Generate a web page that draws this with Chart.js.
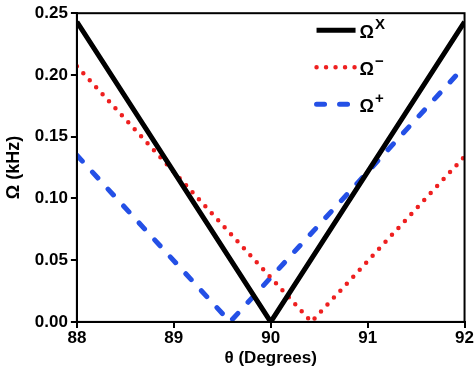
<!DOCTYPE html>
<html>
<head>
<meta charset="utf-8">
<script src="https://cdn.jsdelivr.net/npm/chart.js@4.4.0/dist/chart.umd.min.js"></script>
<style>
  html, body { margin: 0; padding: 0; background: #fff; overflow: hidden; }
  #wrap { width: 474px; height: 368px; }
</style>
</head>
<body>
<div id="wrap"><canvas id="chart"></canvas></div>
<script>
// values
const xTicks = [88, 89, 90, 91, 92];
const yTicks = [0, 0.05, 0.10, 0.15, 0.20, 0.25];

const thetaX = [88, 90, 92];
const omegaX = [0.243, 0, 0.243];

const thetaMinus = [88, 90.42, 92];
const omegaMinus = [0.207, 0, 0.134];

const thetaPlus = [88, 89.58, 92];
const omegaPlus = [0.135, 0, 0.207];

const legendSups = ["X", "\u2212", "+"];

const pts = (xs, ys) => xs.map((x, i) => ({ x: x, y: ys[i] }));

// box around the plot area (top + right edges too)
const frame = {
  id: "frame",
  afterDraw(chart) {
    const { ctx, chartArea: a } = chart;
    ctx.save();
    ctx.strokeStyle = "#000";
    ctx.lineWidth = 2;
    ctx.strokeRect(a.left, a.top, a.right - a.left, a.bottom - a.top);
    ctx.restore();
  }
};

// legend in the upper right corner, with superscripts
const cornerLegend = {
  id: "cornerLegend",
  afterDraw(chart) {
    const { ctx, chartArea: a } = chart;
    ctx.save();
    chart.data.datasets.forEach((ds, i) => {
      const y = a.top + 17 + i * 37;
      const x0 = a.right - 148, x1 = a.right - 109;
      ctx.beginPath();
      ctx.strokeStyle = ds.borderColor;
      ctx.lineWidth = ds.borderWidth;
      ctx.lineCap = ds.borderCapStyle || "butt";
      ctx.setLineDash(ds.borderDash || []);
      ctx.moveTo(x0, y);
      ctx.lineTo(x1, y);
      ctx.stroke();
      ctx.setLineDash([]);
      ctx.fillStyle = "#000";
      ctx.textBaseline = "alphabetic";
      ctx.font = "bold 18px 'Liberation Sans', Arial, sans-serif";
      ctx.fillText("\u03A9", x1 + 4, y + 8);
      const w = ctx.measureText("\u03A9").width;
      ctx.font = "bold 15px 'Liberation Sans', Arial, sans-serif";
      ctx.fillText(legendSups[i], x1 + 5 + w, y - 1);
    });
    ctx.restore();
  }
};

const axisFont = { family: "'Liberation Sans', Arial, sans-serif", size: 17, weight: "bold" };

new Chart(document.getElementById("chart"), {
  type: "scatter",
  data: {
    datasets: [
      {
        label: "\u03A9x",
        data: pts(thetaX, omegaX),
        showLine: true,
        borderColor: "#000000",
        borderWidth: 5,
        pointRadius: 0
      },
      {
        label: "\u03A9-",
        data: pts(thetaMinus, omegaMinus),
        showLine: true,
        borderColor: "#ee1f1f",
        borderWidth: 4.5,
        borderDash: [0, 9.5],
        borderCapStyle: "round",
        pointRadius: 0
      },
      {
        label: "\u03A9+",
        data: pts(thetaPlus, omegaPlus),
        showLine: true,
        borderColor: "#2450e6",
        borderWidth: 5,
        borderDash: [8, 15],
        borderCapStyle: "round",
        pointRadius: 0
      }
    ]
  },
  options: {
    responsive: true,
    maintainAspectRatio: false,
    animation: false,
    layout: { padding: { left: 4, top: 0, right: 0, bottom: 0 } },
    plugins: { legend: { display: false }, tooltip: { enabled: false } },
    scales: {
      x: {
        type: "linear",
        min: xTicks[0],
        max: xTicks[xTicks.length - 1],
        afterBuildTicks: s => { s.ticks = xTicks.map(v => ({ value: v })); },
        ticks: { color: "#000", font: axisFont, padding: 0, maxRotation: 0 },
        grid: { display: true, drawOnChartArea: false, drawTicks: true, tickLength: 6, color: "#000", lineWidth: 2 },
        border: { display: true, color: "#000", width: 2 },
        title: {
          display: true,
          text: "\u03B8 (Degrees)",
          color: "#000",
          font: { family: axisFont.family, size: 17, weight: "bold", lineHeight: 1.1 },
          padding: { top: 1, bottom: 0 }
        }
      },
      y: {
        min: yTicks[0],
        max: yTicks[yTicks.length - 1],
        afterBuildTicks: s => { s.ticks = yTicks.map(v => ({ value: v })); },
        ticks: { color: "#000", font: axisFont, padding: 3, callback: v => v.toFixed(2) },
        grid: { display: true, drawOnChartArea: false, drawTicks: true, tickLength: 6, color: "#000", lineWidth: 2 },
        border: { display: true, color: "#000", width: 2 },
        title: {
          display: true,
          text: "\u03A9 (kHz)",
          color: "#000",
          font: { family: axisFont.family, size: 18, weight: "bold", lineHeight: 1.1 },
          padding: { top: 0, bottom: 8 }
        }
      }
    }
  },
  plugins: [frame, cornerLegend]
});
</script>
</body>
</html>
